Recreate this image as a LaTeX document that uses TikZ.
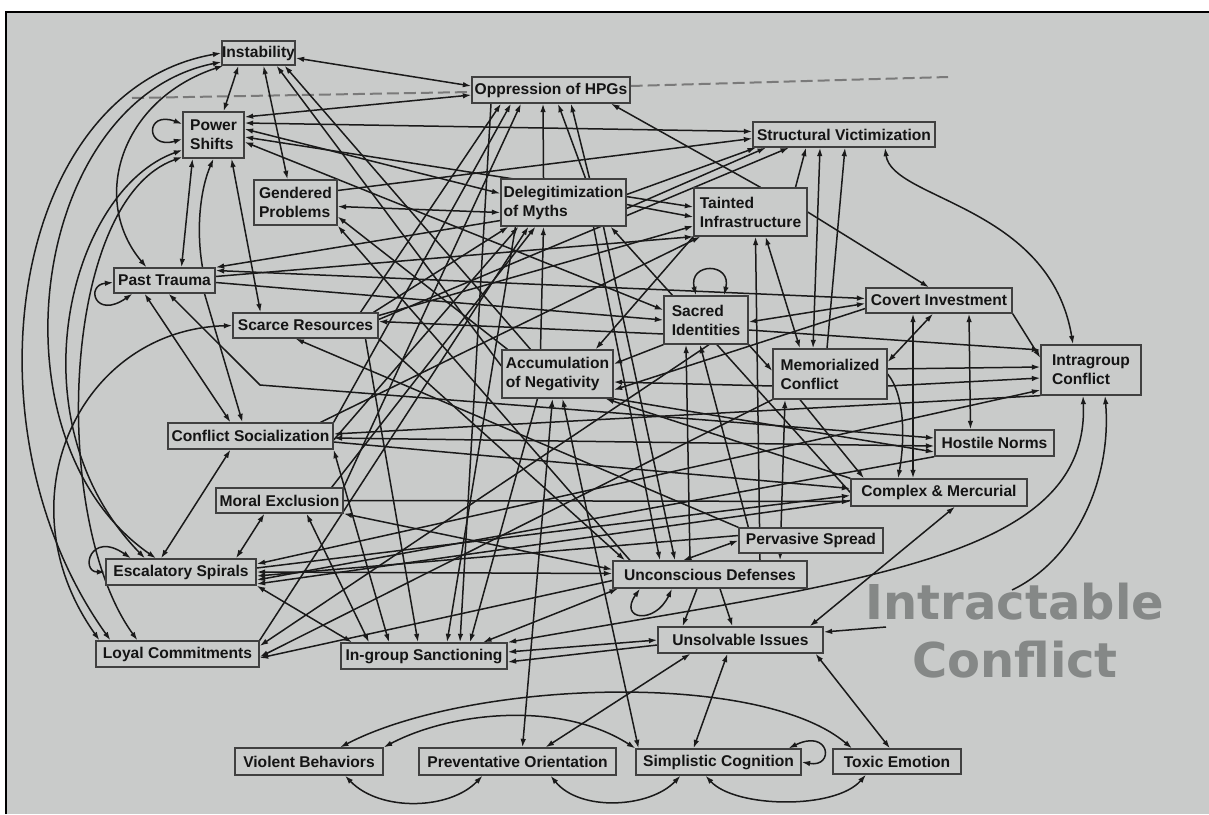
\documentclass[tikz,border=0pt]{standalone}
\usepackage{fontspec}
\newfontfamily\boxfont{Liberation Sans}
\newfontfamily\markfont{DejaVu Sans}
\usetikzlibrary{arrows.meta}
\definecolor{paper}{HTML}{C9CBCA}
\definecolor{ink}{HTML}{1A1A1A}
\definecolor{boxline}{HTML}{404040}
\definecolor{boxtext}{HTML}{141414}
\definecolor{dashgray}{HTML}{7A7A7A}
\definecolor{markgray}{HTML}{858887}
\pgfdeclarelayer{sheet}
\pgfdeclarelayer{back}
\pgfsetlayers{sheet,back,main}
\tikzset{
  box/.style={draw=boxline, fill=paper, line width=1.3pt, inner sep=0pt, align=left,
    text=boxtext, font=\boxfont\bfseries\fontsize{15.6}{19}\selectfont},
  wire/.style={draw=ink, line width=1.5pt},
  fwd/.style={wire, -{Latex[length=8.5pt,width=5.5pt]}},
  both/.style={wire, {Latex[length=8.5pt,width=5.5pt]}-{Latex[length=8.5pt,width=5.5pt]}},
  hline/.style={draw=dashgray, line width=2pt, dash pattern=on 12pt off 5pt},
  stamp/.style={text=markgray, inner sep=0pt, anchor=base,
    font=\markfont\bfseries\fontsize{48}{50}\selectfont},
}
\begin{document}
\begin{tikzpicture}[x=1pt,y=-1pt]
\useasboundingbox (0,0) rectangle (1209,814);
\begin{pgfonlayer}{sheet}
  \fill[white] (0,0) rectangle (1209,814);
  \fill[paper] (6,12) rectangle (1209,814);
  \draw[black, line width=2.5pt] (6,814) -- (6,12) -- (1209,12);
\end{pgfonlayer}

% ---------- factors
\node[box, minimum width=73pt,  minimum height=24pt] (I)  at (258.5,53)  {Instability};
\node[box, minimum width=158pt, minimum height=26pt] (O)  at (551,90)    {Oppression of HPGs};
\node[box, minimum width=61pt,  minimum height=46pt] (PS) at (213.5,135) {Power\\Shifts};
\node[box, minimum width=83pt,  minimum height=45pt] (GP) at (295.5,202.5) {Gendered\\Problems};
\node[box, minimum width=125pt, minimum height=47pt] (DM) at (563.5,202.5) {Delegitimization\\of Myths};
\node[box, minimum width=113pt, minimum height=48pt] (TI) at (750.5,212) {Tainted\\Infrastructure};
\node[box, minimum width=182pt, minimum height=25pt] (SV) at (844,134.5) {Structural Victimization};
\node[box, minimum width=101pt, minimum height=25pt] (PT) at (164.5,280.5) {Past Trauma};
\node[box, minimum width=145pt, minimum height=25pt] (SR) at (305.5,325.5) {Scarce Resources};
\node[box, minimum width=84pt,  minimum height=48pt] (SI) at (706,320)   {Sacred\\Identities};
\node[box, minimum width=146pt, minimum height=25pt] (CI) at (939,300.5) {Covert Investment};
\node[box, minimum width=111pt, minimum height=48pt] (AN) at (557.5,374) {Accumulation\\of Negativity};
\node[box, minimum width=114pt, minimum height=50pt] (MC) at (830,374)   {Memorialized\\Conflict};
\node[box, minimum width=100pt, minimum height=50pt] (IC) at (1091,370)  {Intragroup\\Conflict};
\node[box, minimum width=165pt, minimum height=26pt] (CS) at (250.5,436) {Conflict Socialization};
\node[box, minimum width=119pt, minimum height=26pt] (HN) at (994.5,443) {Hostile Norms};
\node[box, minimum width=127pt, minimum height=25pt] (ME) at (279.5,500.5) {Moral Exclusion};
\node[box, minimum width=176pt, minimum height=27pt] (CM) at (939,492.5) {Complex \& Mercurial};
\node[box, minimum width=144pt, minimum height=25pt] (PV) at (811,540.5) {Pervasive Spread};
\node[box, minimum width=150pt, minimum height=26pt] (ES) at (181,572)   {Escalatory Spirals};
\node[box, minimum width=194pt, minimum height=27pt] (UD) at (710,574.5) {Unconscious Defenses};
\node[box, minimum width=163pt, minimum height=26pt] (LC) at (177.5,654) {Loyal Commitments};
\node[box, minimum width=166pt, minimum height=26pt] (IS) at (424,656)   {In-group Sanctioning};
\node[box, minimum width=165pt, minimum height=26pt] (UI) at (740.5,640) {Unsolvable Issues};
\node[box, minimum width=148pt, minimum height=27pt] (VB) at (309,761.5) {Violent Behaviors};
\node[box, minimum width=197pt, minimum height=27pt] (PO) at (517.5,761.5) {Preventative Orientation};
\node[box, minimum width=165pt, minimum height=26pt] (SC) at (718.5,762) {Simplistic Cognition};
\node[box, minimum width=128pt, minimum height=25pt] (TE) at (897,761.5) {Toxic Emotion};

\coordinate (dashL) at (132,98);
\coordinate (dashR) at (948,77);
\coordinate (kink) at (260,385);
\coordinate (gapA) at (1012,590);
\coordinate (gapB) at (886,627);

\begin{pgfonlayer}{back}
% dashed divider through the oppression box
\draw[hline] (dashL) -- ([yshift=-2pt]O.west);
\draw[hline] ([yshift=4pt]O.east) -- (dashR);

% arcs along the left margin
\draw[both] (I.west) .. controls (10,90) and (-40,430) .. ([xshift=-67pt]LC.north);
\draw[both] ([yshift=-9pt]I.west) .. controls (30,100) and (-15,440) .. ([xshift=-25pt]ES.north);
\draw[both] ([xshift=2pt]I.south west) .. controls (120,100) and (90,200) .. ([xshift=-18pt]PT.north);
\draw[both] ([yshift=-15pt]PS.west) .. controls (70,190) and (10,420) .. ([xshift=-36pt]ES.north);
\draw[both] ([yshift=-22pt]PS.west) .. controls (60,200) and (50,520) .. ([xshift=-40pt]LC.north);
\draw[both] (SR.west) .. controls (80,330) and (0,500) .. ([xshift=-78pt]LC.north);

% self loops
\draw[both] ([yshift=11pt]PS.west) .. controls (145,110) and (145,150) .. ([yshift=-4pt]PS.west);
\draw[both] ([yshift=-2pt]PT.west) .. controls (85,285) and (95,320) .. ([xshift=-32pt]PT.south);
\draw[both] (ES.west) .. controls (80,572) and (90,530) .. ([xshift=-50pt]ES.north);
\draw[both] ([xshift=-10pt]SI.north) .. controls (688,262) and (732,262) .. ([xshift=18pt]SI.north);
\draw[both] ([xshift=-70pt]UD.south) .. controls (618,620) and (655,625) .. ([xshift=-38pt]UD.south);
\draw[both] (SC.east) .. controls (835,768) and (830,728) .. ([xshift=70pt]SC.north);

% instability
\draw[both] ([yshift=-5pt]I.east) -- ([yshift=4pt]O.west);
\draw[both] ([xshift=-20pt]I.south) -- ([xshift=10pt]PS.north);
\draw[both] ([xshift=5pt]I.south) -- ([xshift=-8pt]GP.north);
\draw[fwd] ([yshift=8pt]AN.west) -- ([xshift=18pt]I.south);
\draw[fwd] ([xshift=-27pt]AN.north) -- ([xshift=26pt]I.south);

% oppression of HPGs
\draw[both] ([yshift=-5pt]O.west) -- ([yshift=18pt]PS.east);
\draw[fwd] ([xshift=10pt]TI.north) -- ([xshift=60pt]O.south);
\draw[fwd] ([xshift=-20pt]DM.north) -- ([xshift=-8pt]O.south);
\draw[fwd] ([xshift=22pt]DM.north) -- ([xshift=7pt]O.south);
\draw[fwd] ([xshift=26pt]DM.north) -- ([xshift=20pt]O.south);
\draw[fwd] ([xshift=55pt]SR.north) -- ([xshift=-50pt]O.south);
\draw[fwd] (CS.north east) -- ([xshift=-40pt]O.south);
\draw[fwd] (ME.north east) -- ([xshift=-30pt]O.south);
\draw[fwd] ([xshift=-60pt]O.south) -- ([xshift=36pt]IS.north);

% structural victimization
\draw[both] ([yshift=12pt]PS.east) -- ([yshift=3pt]SV.west);
\draw[fwd] ([yshift=12pt]GP.east) -- ([yshift=-4pt]SV.west);
\draw[fwd] ([yshift=8pt]DM.east) -- ([xshift=-88pt]SV.south);
\draw[fwd] ([yshift=-6pt]DM.east) -- ([xshift=-78pt]SV.south);
\draw[fwd] ([yshift=6pt]SR.east) -- ([xshift=-55pt]SV.south);
\draw[fwd] ([xshift=45pt]TI.north) -- ([xshift=-38pt]SV.south);
\draw[both] ([xshift=-17pt]MC.north) -- ([xshift=-24pt]SV.south);
\draw[fwd] ([xshift=-3pt]MC.north) -- ([xshift=1pt]SV.south);
\draw[both] ([xshift=41pt]SV.south) .. controls (892,200) and (1050,205) .. ([xshift=-18pt]IC.north);

% power shifts
\draw[both] ([yshift=6pt]PS.east) -- ([yshift=9pt]DM.west);
\draw[both] ([yshift=-2pt]PS.east) -- ([yshift=5pt]TI.west);
\draw[both] ([yshift=-7pt]PS.east) -- ([yshift=10pt]SI.west);
\draw[both] ([xshift=-21pt]PS.south) -- ([xshift=17pt]PT.north);
\draw[fwd] ([xshift=38pt]PT.north) .. controls (196,230) and (200,190) .. (PS.south);
\draw[both] ([xshift=18pt]PS.south) -- ([xshift=-45pt]SR.north);

% past trauma
\draw[both] ([xshift=-20pt]PT.south) -- ([xshift=-20pt]CS.north);
\draw[fwd] ([xshift=40pt]PT.south) -- ([xshift=-8pt]CS.north);
\draw[both] ([yshift=10pt]PT.east) -- ([yshift=2pt]CI.west);
\draw[fwd] ([yshift=-2pt]PT.east) -- (SI.west);
\draw[fwd] ([yshift=4pt]PT.east) -- (TI.south west);
\draw[fwd] ([yshift=-18pt]DM.west) -- (PT.north east);
\draw[both] ([xshift=4pt]PT.south) -- (kink) -- ([yshift=5pt]HN.west);

% gendered problems
\draw[both] ([yshift=-4pt]GP.east) -- ([yshift=-10pt]DM.west);
\draw[fwd] ([xshift=-50pt]AN.north) -- ([yshift=-14pt]GP.east);
\draw[fwd] ([xshift=-80pt]UD.north) -- (GP.south east);

% delegitimization of myths
\draw[fwd] ([yshift=-2pt]DM.east) -- ([yshift=-5pt]TI.west);
\draw[fwd] ([xshift=68pt]SR.north) -- ([xshift=-55pt]DM.south);
\draw[fwd] ([yshift=-4pt]CS.east) -- ([xshift=-45pt]DM.south);
\draw[fwd] (LC.north east) -- ([xshift=-35pt]DM.south);
\draw[fwd] ([xshift=-12pt]ME.north east) -- ([xshift=-28pt]DM.south);
\draw[fwd] ([xshift=-17pt]AN.north) -- ([xshift=-20pt]DM.south);
\draw[fwd] (CM.west) -- ([xshift=47pt]DM.south);
\draw[fwd] ([xshift=30pt]DM.south) -- ([xshift=-50pt]UD.north);
\draw[fwd] ([xshift=40pt]DM.south) -- ([xshift=-35pt]UD.north);
\draw[fwd] ([xshift=-48pt]DM.south) -- ([xshift=23pt]IS.north);

% tainted infrastructure
\draw[fwd] ([yshift=10pt]SR.east) -- ([yshift=-14pt]TI.west);
\draw[fwd] ([xshift=70pt]CS.north) -- ([xshift=-50pt]TI.south);
\draw[fwd] ([xshift=50pt]UD.north) -- ([xshift=5pt]TI.south);
\draw[both] ([xshift=15pt]TI.south) -- ([xshift=-30pt]MC.north);
\draw[fwd] (TI.east) -- ([xshift=-10pt]CI.north);
\draw[fwd] (TI.south west) -- ([xshift=38pt]AN.north);

% sacred identities
\draw[fwd] ([yshift=-14pt]SI.west) -- ([yshift=4pt]SR.east);
\draw[both] ([yshift=-3pt]CI.west) -- ([yshift=-2pt]SI.east);
\draw[fwd] (SI.south east) -- ([yshift=3pt]MC.west);
\draw[fwd] ([yshift=-10pt]SI.east) -- ([yshift=20pt]IC.west);
\draw[fwd] ([xshift=-20pt]UD.north) -- ([xshift=-20pt]SI.south);
\draw[fwd] ([xshift=10pt]PV.north west) -- ([xshift=-6pt]SI.south);
\draw[fwd] ([xshift=3pt]SI.south) -- ([yshift=8pt]LC.east);
\draw[fwd] (SI.south west) -- ([yshift=10pt]AN.east);

% covert investment
\draw[both] ([xshift=30pt]CI.south) -- ([xshift=-24pt]HN.north);
\draw[both] ([xshift=-26pt]CI.south) -- ([xshift=-26pt]CM.north);
\draw[both] ([yshift=12pt]MC.east) -- ([xshift=-6pt]CI.south);
\draw[fwd] ([yshift=-8pt]CI.west) -- ([yshift=-16pt]AN.east);
\draw[fwd] (CI.south east) -- ([yshift=12pt]IC.west);

% memorialized conflict
\draw[fwd] ([yshift=5pt]MC.east) -- ([yshift=3pt]IC.west);
\draw[fwd] ([yshift=-12pt]MC.east) -- ([yshift=-8pt]IC.west);
\draw[fwd] ([xshift=-30pt]MC.south) -- ([xshift=-75pt]CM.north);
\draw[fwd] (MC.east) .. controls (905,395) and (905,440) .. ([xshift=-41pt]CM.north);
\draw[fwd] (MC.south west) -- ([yshift=-3pt]LC.east);
\draw[fwd] ([yshift=-12pt]MC.west) -- ([yshift=-8pt]AN.east);
\draw[both] ([xshift=-45pt]MC.south) -- ([xshift=70pt]UD.north);

% intragroup conflict
\draw[fwd] (IC.south west) -- ([yshift=2pt]CS.east);
\draw[both] ([yshift=8pt]ES.east) -- ([yshift=-20pt]IC.west);
\draw[both] ([xshift=-8pt]IC.south) .. controls (1090,560) and (860,580) .. (IS.north east);
\draw[wire, {Latex[length=8.5pt,width=5.5pt]}-] ([xshift=14pt]IC.south) .. controls (1112,480) and (1075,560) .. (gapA);
\draw[fwd] (gapB) -- ([yshift=8pt]UI.east);

% hostile norms
\draw[both] ([yshift=-2pt]CS.east) -- ([yshift=-3pt]HN.west);
\draw[fwd] (AN.south east) -- ([yshift=-9pt]HN.west);
\draw[fwd] (HN.south west) -- ([yshift=-8pt]ES.east);

% complex & mercurial
\draw[fwd] ([yshift=-6pt]CS.east) -- ([yshift=4pt]CM.west);
\draw[fwd] ([yshift=4pt]ES.east) -- ([yshift=-3pt]CM.west);
\draw[fwd] (ME.east) -- ([yshift=-9pt]CM.west);
\draw[both] ([xshift=-14pt]UI.north east) -- ([xshift=16pt]CM.south);
\draw[fwd] (CM.north west) -- ([xshift=48pt]AN.south);
\draw[fwd] ([yshift=-8pt]CM.west) -- ([yshift=-12pt]ES.east);

% pervasive spread
\draw[both] (PV.west) -- ([xshift=-27pt]UD.north);
\draw[fwd] ([yshift=5pt]PV.west) -- ([yshift=-4pt]ES.east);
\draw[fwd] (PV.north west) -- ([xshift=-10pt]SR.south);

% unconscious defenses
\draw[both] (ES.east) -- ([yshift=1pt]UD.west);
\draw[both] (ME.south east) -- ([yshift=5pt]UD.west);
\draw[fwd] (SR.south east) -- ([xshift=-85pt]UD.north);
\draw[fwd] ([xshift=-13pt]UD.south) -- ([xshift=-58pt]UI.north);
\draw[fwd] ([xshift=10pt]UD.south) -- ([xshift=-8pt]UI.north);
\draw[both] ([xshift=-92pt]UD.south) -- ([xshift=59pt]IS.north);
\draw[fwd] ([yshift=-6pt]UD.west) -- ([yshift=-4pt]LC.east);

% in-group sanctioning
\draw[both] (ES.south east) -- ([xshift=-72pt]IS.north);
\draw[both] ([xshift=27pt]ME.south) -- ([xshift=-55pt]IS.north);
\draw[both] (CS.south east) -- ([xshift=-35pt]IS.north);
\draw[both] ([xshift=-20pt]ES.north) -- ([xshift=-20pt]CS.south);
\draw[both] ([xshift=55pt]ES.north) -- ([xshift=-15pt]ME.south);
\draw[fwd] ([xshift=60pt]SR.south) -- ([xshift=-6pt]IS.north);
\draw[fwd] ([xshift=-20pt]AN.south) -- ([xshift=46pt]IS.north);
\draw[both] ([yshift=4pt]IS.east) -- (UI.west);
\draw[fwd] ([yshift=-5pt]UI.west) -- ([yshift=-6pt]IS.east);

% outcomes along the bottom
\draw[both] ([xshift=-5pt]AN.south) -- ([xshift=5pt]PO.north);
\draw[both] ([xshift=5pt]AN.south) -- ([xshift=-80pt]SC.north);
\draw[both] ([xshift=-50pt]UI.south) -- ([xshift=28pt]PO.north);
\draw[both] ([xshift=-13pt]UI.south) -- ([xshift=-25pt]SC.north);
\draw[both] ([xshift=75pt]UI.south) -- ([xshift=-7pt]TE.north);
\draw[both] ([xshift=31pt]VB.north) .. controls (470,680) and (760,670) .. ([xshift=-45pt]TE.north);
\draw[both] (VB.north east) .. controls (450,712) and (560,700) .. (SC.north west);
\draw[both] ([xshift=36pt]VB.south) .. controls (380,812) and (450,810) .. ([xshift=-35pt]PO.south);
\draw[both] ([xshift=33pt]PO.south) .. controls (580,812) and (650,808) .. ([xshift=-38pt]SC.south);
\draw[both] ([xshift=-13pt]SC.south) .. controls (735,808) and (835,810) .. ([xshift=-31pt]TE.south);
\end{pgfonlayer}

% title lettering
\node[stamp] (w1) at (1015,619) {Intractable};
\node[stamp] (w2) at (1015,677) {Conflict};
\end{tikzpicture}
\end{document}
